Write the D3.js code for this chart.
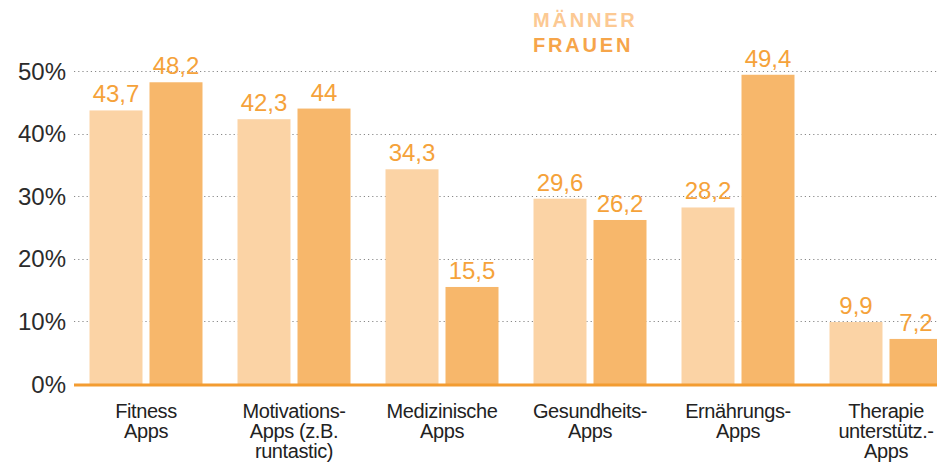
<!DOCTYPE html>
<html>
<head>
<meta charset="utf-8">
<script src="https://cdn.jsdelivr.net/npm/d3@7"></script>
<style>
  body { margin: 0; background: #fff; }
  svg { display: block; font-family: "Liberation Sans", Arial, sans-serif; }
</style>
</head>
<body>
<div id="chart"></div>
<script>
// data
var categories = [
  ["Fitness", "Apps"],
  ["Motivations-", "Apps (z.B.", "runtastic)"],
  ["Medizinische", "Apps"],
  ["Gesundheits-", "Apps"],
  ["Ernährungs-", "Apps"],
  ["Therapie", "unterstütz.-", "Apps"]
];
var maenner = [43.7, 42.3, 34.3, 29.6, 28.2, 9.9];
var frauen = [48.2, 44, 15.5, 26.2, 49.4, 7.2];
var seriesNames = ["MÄNNER", "FRAUEN"];
var yTicks = [0, 10, 20, 30, 40, 50];

var width = 937, height = 462;
var colors = ["#fbd3a5", "#f7b76b"];
var legendColors = ["#fcc993", "#f6a54a"];
var labelColor = "#f5a23a";

var svg = d3.select("#chart").append("svg")
  .attr("width", width)
  .attr("height", height);

var x = d3.scaleBand()
  .domain(d3.range(categories.length))
  .range([72, 960])
  .paddingInner(35 / 148)
  .paddingOuter(35 / 296);

var xInner = d3.scaleBand()
  .domain([0, 1])
  .range([0, x.bandwidth()])
  .paddingInner(7 / 60);

var y = d3.scaleLinear().domain([0, 50]).range([384, 71]);

// grid lines
svg.append("g").selectAll("line")
  .data(yTicks.filter(function (d) { return d > 0; }))
  .enter().append("line")
  .attr("x1", 74).attr("x2", width)
  .attr("y1", function (d) { return Math.round(y(d)) + 0.5; })
  .attr("y2", function (d) { return Math.round(y(d)) + 0.5; })
  .attr("stroke", "#888")
  .attr("stroke-width", 1)
  .attr("stroke-dasharray", "1.2,3");

// y labels
svg.append("g").selectAll("text")
  .data(yTicks)
  .enter().append("text")
  .attr("x", 66)
  .attr("y", function (d) { return y(d) + 8.5; })
  .attr("text-anchor", "end")
  .attr("fill", "#2b2b2b")
  .style("font-size", "24px")
  .text(function (d) { return d + "%"; });

// bars
var groups = svg.append("g").selectAll("g")
  .data(categories.map(function (c, i) { return [maenner[i], frauen[i]]; }))
  .enter().append("g")
  .attr("transform", function (d, i) { return "translate(" + x(i) + ",0)"; });

groups.selectAll("rect")
  .data(function (d) { return d; })
  .enter().append("rect")
  .attr("x", function (d, j) { return xInner(j); })
  .attr("width", xInner.bandwidth())
  .attr("y", function (d) { return y(d); })
  .attr("height", function (d) { return y(0) - y(d); })
  .attr("fill", function (d, j) { return colors[j]; });

groups.selectAll("text")
  .data(function (d) { return d; })
  .enter().append("text")
  .attr("x", function (d, j) { return xInner(j) + xInner.bandwidth() / 2; })
  .attr("y", function (d) { return y(d) - 8; })
  .attr("text-anchor", "middle")
  .attr("fill", labelColor)
  .style("font-size", "24px")
  .text(function (d) { return String(d).replace(".", ","); });

// baseline
svg.append("line")
  .attr("x1", 74).attr("x2", width)
  .attr("y1", y(0) + 1).attr("y2", y(0) + 1)
  .attr("stroke", "#f39c31")
  .attr("stroke-width", 3);

// category labels
svg.append("g").selectAll("text")
  .data(categories)
  .enter().append("text")
  .attr("x", function (d, i) { return x(i) + x.bandwidth() / 2; })
  .attr("y", 418)
  .attr("text-anchor", "middle")
  .attr("fill", "#222")
  .style("font-size", "20px")
  .style("letter-spacing", "-0.4px")
  .each(function (d) {
    var t = d3.select(this);
    d.forEach(function (line, k) {
      t.append("tspan")
        .attr("x", t.attr("x"))
        .attr("dy", k === 0 ? 0 : 20)
        .text(line);
    });
  });

// legend
svg.append("g").selectAll("text")
  .data(seriesNames)
  .enter().append("text")
  .attr("x", 533)
  .attr("y", function (d, i) { return 27 + i * 24.5; })
  .attr("fill", function (d, i) { return legendColors[i]; })
  .style("font-size", "20px")
  .style("font-weight", "bold")
  .style("letter-spacing", "2.8px")
  .text(function (d) { return d; });
</script>
</body>
</html>
